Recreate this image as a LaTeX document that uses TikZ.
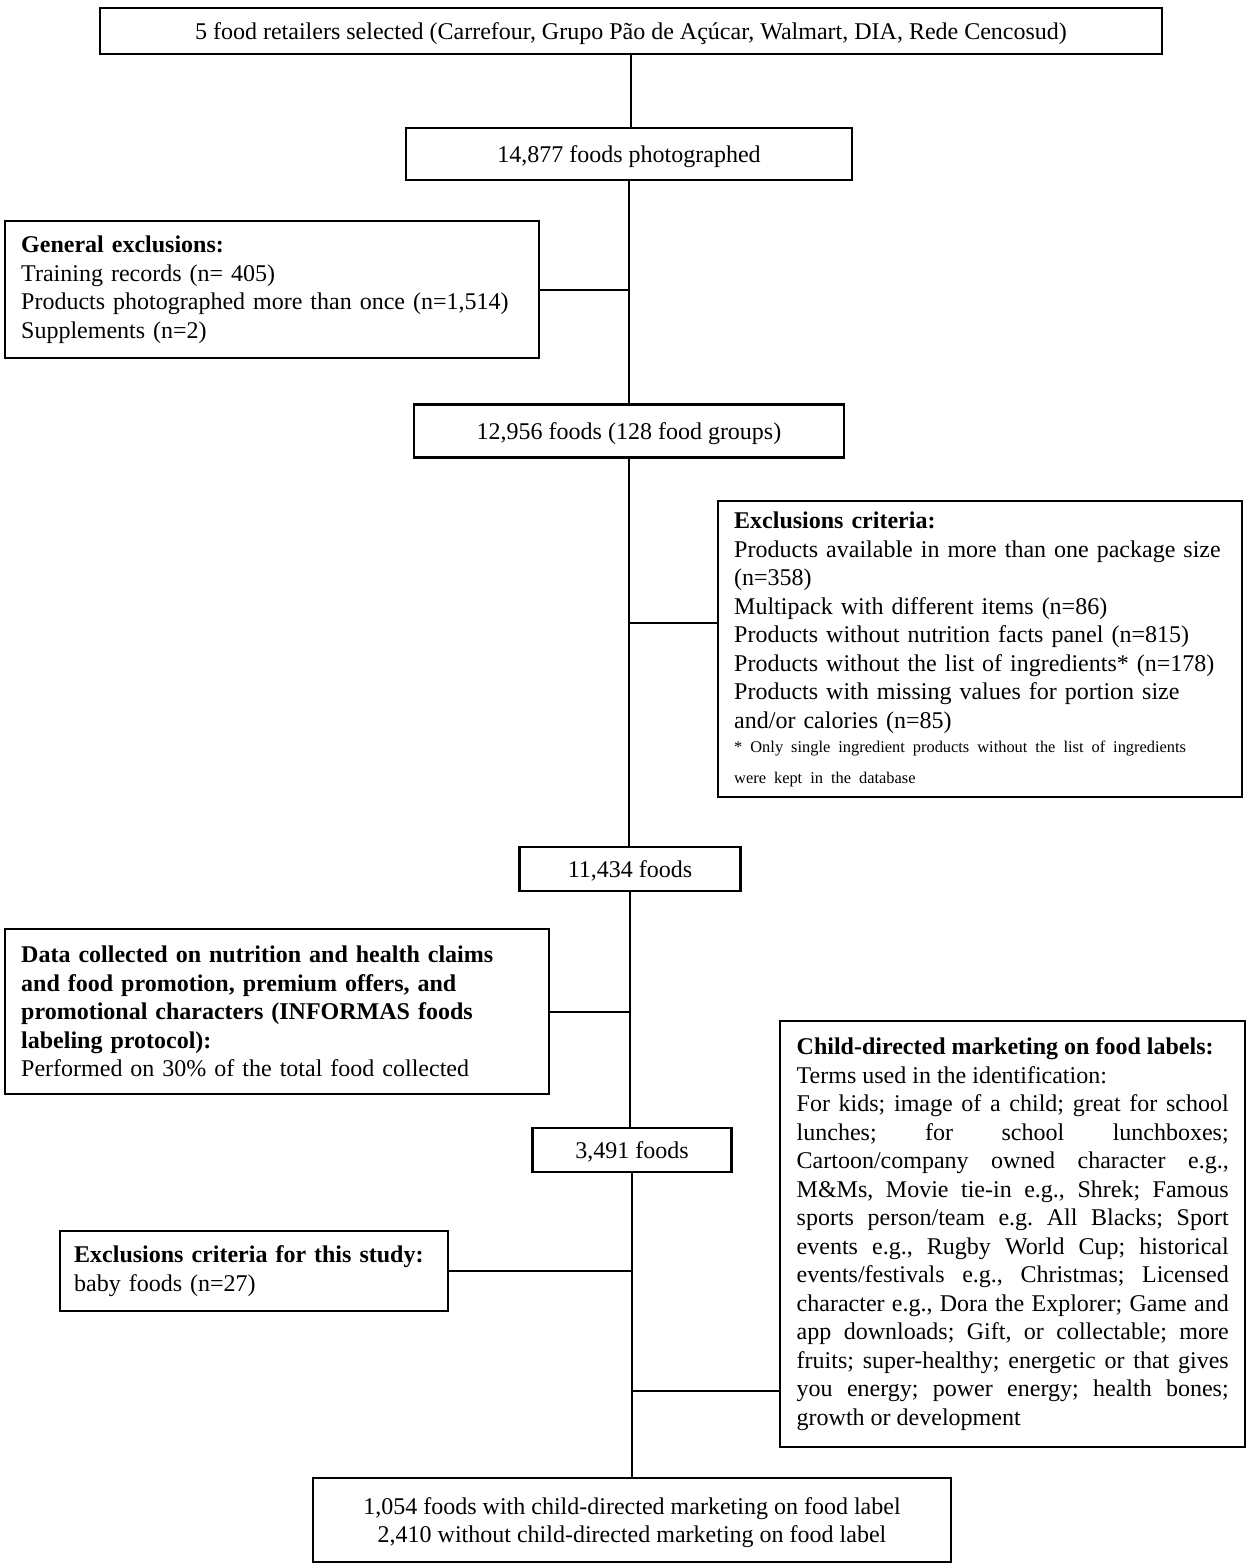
\documentclass[tikz,border=0pt]{standalone}
\usepackage{fontspec}
\setmainfont{Liberation Serif}
\usetikzlibrary{positioning,calc}

\tikzset{
    box/.style={draw, line width=1.2pt, font=\fontsize{12}{14.25}\selectfont\frenchspacing, inner ysep=0pt},
    countbox/.style={box, align=center, text depth=0pt},
    notebox/.style={box, align=left, anchor=north west, inner xsep=8pt},
    link/.style={line width=0.9pt},
}

\begin{document}
\begin{tikzpicture}[x=0.5pt, y=-0.5pt]
    \useasboundingbox (0,0) rectangle (1248,1566);

    % Main flow
    \node[countbox, minimum width=531pt, minimum height=23pt] (retail) at (631,31)
        {5 food retailers selected (Carrefour, Grupo Pão de Açúcar, Walmart, DIA, Rede Cencosud)};
    \node[countbox, minimum width=223pt, minimum height=26pt] (photo) at (629,154)
        {14,877 foods photographed};
    \node[countbox, minimum width=215pt, minimum height=26.5pt] (groups) at (629,431)
        {12,956 foods (128 food groups)};
    \node[countbox, minimum width=110.5pt, minimum height=22pt] (kept) at (630,869)
        {11,434 foods};
    \node[countbox, minimum width=99.5pt, minimum height=22pt] (study) at (632,1150)
        {3,491 foods};
    \node[countbox, minimum width=319pt, minimum height=42pt] (final) at (632,1520)
        {1,054 foods with child-directed marketing on food label\\
         2,410 without child-directed marketing on food label};

    % Side boxes
    \node[notebox, text width=251pt, minimum height=68.5pt] (genexcl) at (4,220)
        {\textbf{General exclusions:}\\
         Training records (n= 405)\\
         Products photographed more than once (n=1,514)\\
         Supplements (n=2)};
    \node[notebox, text width=246pt, minimum height=148pt] (critexcl) at (717,500)
        {\textbf{Exclusions criteria:}\\
         Products available in more than one package size\\
         (n=358)\\
         Multipack with different items (n=86)\\
         Products without nutrition facts panel (n=815)\\
         Products without the list of ingredients* (n=178)\\
         Products with missing values for portion size\\
         and/or calories (n=85)\\[-2pt]
         {\fontsize{8.2}{15}\selectfont * Only single ingredient products without the list of ingredients}\\[1pt]
         {\fontsize{8.2}{15}\selectfont were kept in the database}};
    \node[notebox, text width=256pt, minimum height=82.5pt] (informas) at (4,928)
        {\textbf{Data collected on nutrition and health claims}\\
         \textbf{and food promotion, premium offers, and}\\
         \textbf{promotional characters (INFORMAS foods}\\
         \textbf{labeling protocol):}\\
         Performed on 30\% of the total food collected};
    \node[notebox, text width=216pt, minimum height=213pt, inner xsep=8.25pt, align=justify] (child) at (779,1020)
        {\mbox{\textbf{Child-directed marketing on food labels:}}\\
         Terms used in the identification:\\
         For kids; image of a child; great for school \linebreak
         lunches; for school lunchboxes; \linebreak
         Cartoon/company owned character e.g., \linebreak
         M\&Ms, Movie tie-in e.g., Shrek; Famous \linebreak
         sports person/team e.g. All Blacks; Sport \linebreak
         events e.g., Rugby World Cup; historical \linebreak
         events/festivals e.g., Christmas; Licensed \linebreak
         character e.g., Dora the Explorer; Game and \linebreak
         app downloads; Gift, or collectable; more \linebreak
         fruits; super-healthy; energetic or that gives \linebreak
         you energy; power energy; health bones; \linebreak
         growth or development};
    \node[notebox, text width=180pt, minimum height=40pt, inner xsep=7pt] (babyexcl) at (59,1230)
        {\textbf{Exclusions criteria for this study:}\\
         baby foods (n=27)};

    % Connectors
    \draw[link] (retail.south) -- (retail.south |- photo.north);
    \draw[link] (photo.south) -- (photo.south |- groups.north);
    \draw[link] (genexcl.east) -- (genexcl.east -| photo.south);
    \draw[link] (groups.south) -- (groups.south |- kept.north);
    \draw[link] ([yshift=13pt]critexcl.west) -- ([yshift=13pt]critexcl.west -| groups.south);
    \draw[link] (kept.south) -- (kept.south |- study.north);
    \draw[link] (informas.east) -- (informas.east -| kept.south);
    \draw[link] (study.south) -- (study.south |- final.north);
    \draw[link] (babyexcl.east) -- (babyexcl.east -| study.south);
    \draw[link] ([yshift=-78.5pt]child.west) -- ([yshift=-78.5pt]child.west -| study.south);

\end{tikzpicture}
\end{document}
